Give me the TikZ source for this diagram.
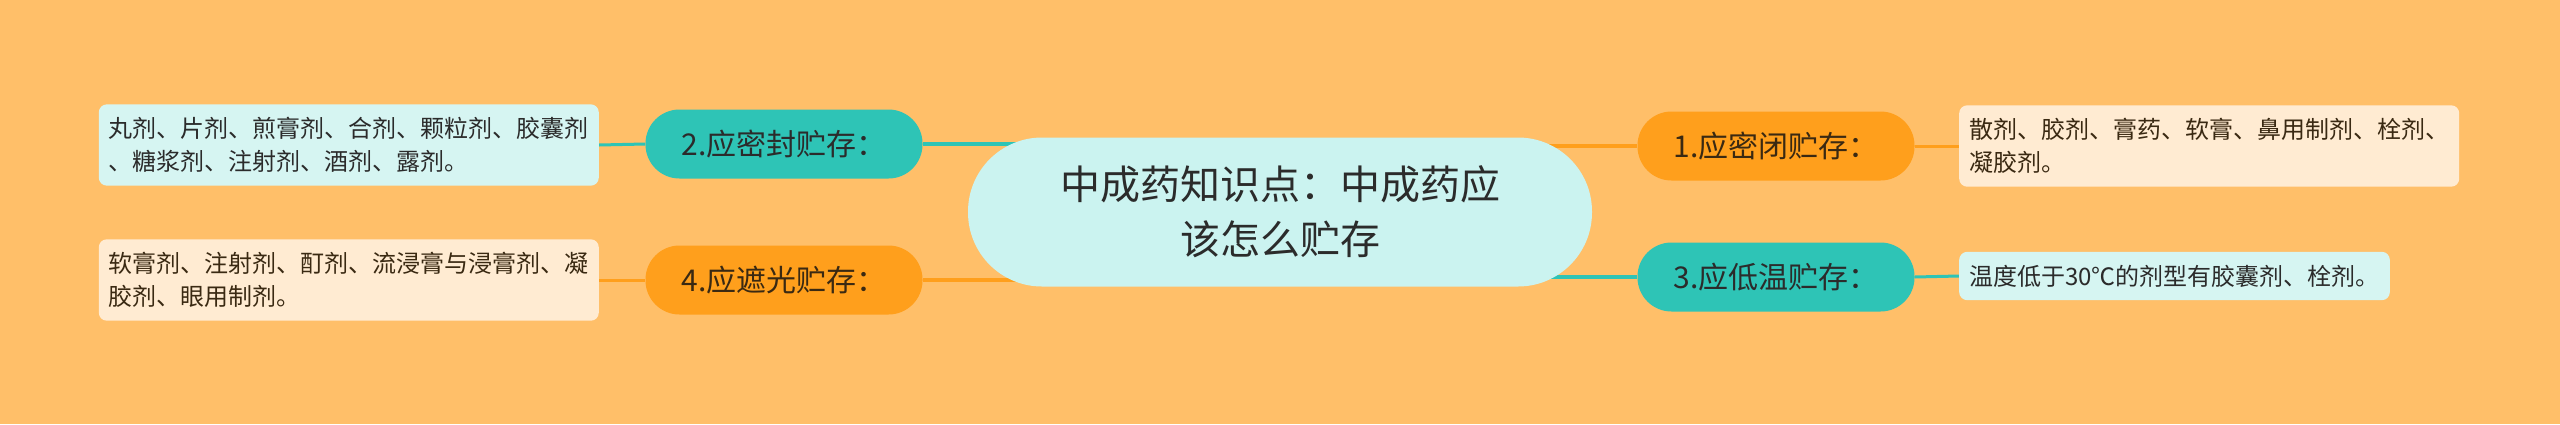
\documentclass[tikz,border=0pt]{standalone}
\usepackage{fontspec}
\setmainfont{Noto Sans CJK SC}
\usetikzlibrary{positioning, backgrounds}
\definecolor{PageBg}{HTML}{FFBF69}
\definecolor{Teal}{HTML}{2EC4B6}
\definecolor{Amber}{HTML}{FF9F1C}
\definecolor{Mint}{HTML}{CBF3F0}
\definecolor{MintLeaf}{HTML}{D6F5F2}
\definecolor{Cream}{HTML}{FFEBD2}
\definecolor{Ink}{HTML}{2B2B2B}
\definecolor{Umber}{HTML}{3A2912}
\pgfdeclarelayer{canvas}
\pgfsetlayers{canvas,background,main}

\tikzset{
  topic/.style={rounded corners=74pt, fill=Mint, text=Ink, align=center,
                minimum width=624pt, minimum height=149pt,
                font=\fontsize{40}{55}\selectfont},
  branch/.style={rounded corners=34pt, minimum width=277pt, minimum height=69pt,
                 font=\fontsize{30}{36}\selectfont},
  leaf/.style={rounded corners=8pt, inner xsep=10pt, inner ysep=13pt,
               align=left, font=\fontsize{24}{33}\selectfont},
  link/.style={line width=4pt},
  twig/.style={line width=3pt}
}

\begin{document}
\begin{tikzpicture}[x=1pt, y=-1pt]
\begin{pgfonlayer}{canvas}
  \fill[PageBg] (0,0) rectangle (2560,424);
\end{pgfonlayer}

\node[topic] (topic) at (1280,212) {中成药知识点：中成药应\\该怎么贮存};

\node[branch, fill=Teal, text=Ink] (b2) at (784,144) {2.应密封贮存：};
\node[branch, fill=Amber, text=Umber] (b4) at (784,280) {4.应遮光贮存：};
\node[branch, fill=Amber, text=Umber] (b1) at (1776,146) {1.应密闭贮存：};
\node[branch, fill=Teal, text=Ink] (b3) at (1776,277) {3.应低温贮存：};

\node[leaf, fill=MintLeaf, text=Ink, anchor=east] (leaf2) at (599,145)
  {丸剂、片剂、煎膏剂、合剂、颗粒剂、胶囊剂\\、糖浆剂、注射剂、酒剂、露剂。};
\node[leaf, fill=Cream, text=Umber, anchor=east] (leaf4) at (599,280)
  {软膏剂、注射剂、酊剂、流浸膏与浸膏剂、凝\\胶剂、眼用制剂。};
\node[leaf, fill=Cream, text=Umber, anchor=west] (leaf1) at (1959,146)
  {散剂、胶剂、膏药、软膏、鼻用制剂、栓剂、\\凝胶剂。};
\node[leaf, fill=MintLeaf, text=Ink, anchor=west] (leaf3) at (1959,276)
  {温度低于30℃的剂型有胶囊剂、栓剂。};

\begin{pgfonlayer}{background}
  % topic to branches
  \draw[link, Teal] (b2.east) -- (b2.east -| topic.center);
  \draw[link, Amber] (b4.east) -- (b4.east -| topic.center);
  \draw[link, Amber] (b1.west) -- (b1.west -| topic.center);
  \draw[link, Teal] (b3.west) -- (b3.west -| topic.center);
  % branches to leaves
  \draw[twig, Teal] (b2.west) -- (leaf2.east);
  \draw[twig, Amber] (b4.west) -- (leaf4.east);
  \draw[twig, Amber] (b1.east) -- (leaf1.west);
  \draw[twig, Teal] (b3.east) -- (leaf3.west);
\end{pgfonlayer}
\end{tikzpicture}
\end{document}
